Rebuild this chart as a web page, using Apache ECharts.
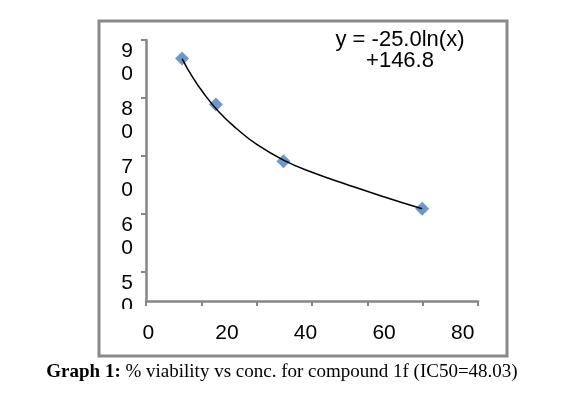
<!DOCTYPE html>
<html>
<head>
<meta charset="utf-8">
<script type="text/javascript" src="https://cdn.jsdelivr.net/npm/echarts@6.0.0/dist/echarts.min.js"></script>
<style>
html,body{margin:0;padding:0;background:#fff;}
#myChart{width:567px;height:396px;}
</style>
</head>
<body>
<div id="myChart"></div>
<script type="text/javascript">
// data
var concValues = [8.6, 17.2, 34.4, 69.7];
var viabilityValues = [86.8, 78.9, 69.1, 60.9];
// trendline samples
var trendX = [8.6, 11.0, 14.0, 18.0, 22.5, 27.6, 34.4, 42.0, 50.5, 58.9, 69.7];
var trendY = [86.8, 83.9, 80.9, 77.6, 74.7, 72.0, 69.3, 67.1, 65.1, 63.2, 60.9];
var xLabels = [0, 20, 40, 60, 80];
var yLabels = [50, 60, 70, 80, 90];
var equationText = 'y = -25.0ln(x)\n+146.8';
var captionBold = 'Graph 1:';
var captionText = ' % viability vs conc. for compound 1f (IC50=48.03)';

var myChart = echarts.init(document.getElementById('myChart'));

function pairs(xs, ys){
    var out = [];
    for(var i = 0;i<xs.length;i++){
        out.push([xs[i], ys[i]]);
    }
    return out;
}

var axisGray = '#868686';
var font = '"Liberation Sans", Arial, sans-serif';
var serif = '"Liberation Serif", "Times New Roman", serif';

var option = {
    backgroundColor:'#fff',
    animation:false,
    grid:{
        left:146,
        right:89,
        top:40,
        bottom:95
    },
    xAxis:[
        {
            // axis line with its six tick divisions
            type:'value',
            min:0,
            max:6,
            interval:1,
            axisLine:{lineStyle:{color:axisGray,width:2.5}},
            axisTick:{length:5,lineStyle:{color:axisGray,width:2}},
            axisLabel:{show:false},
            splitLine:{show:false}
        },
        {
            // label scale
            type:'value',
            position:'bottom',
            min:-0.58,
            max:83.9,
            axisLine:{show:false},
            axisTick:{show:false},
            splitLine:{show:false},
            axisLabel:{
                customValues:xLabels,
                interval:0,
                showMinLabel:true,
                showMaxLabel:true,
                margin:22,
                fontSize:21,
                lineHeight:21,
                fontFamily:font,
                color:'#000'
            }
        }
    ],
    yAxis:{
        type:'value',
        min:45,
        max:90,
        axisLine:{show:true,lineStyle:{color:axisGray,width:2.5}},
        axisTick:{show:true,length:5,interval:0,customValues:yLabels,lineStyle:{color:axisGray,width:2}},
        splitLine:{show:false},
        axisLabel:{
            customValues:yLabels,
            interval:0,
            showMinLabel:true,
            showMaxLabel:true,
            hideOverlap:false,
            margin:13,
            fontSize:21,
            lineHeight:23,
            fontFamily:font,
            color:'#000',
            verticalAlign:'top',
            formatter:function(v){
                return String(v).split('').join('\n');
            }
        }
    },
    series:[
        {
            name:'viability',
            type:'scatter',
            xAxisIndex:1,
            symbol:'diamond',
            symbolSize:14,
            itemStyle:{color:'#4a7ebb'},
            data:pairs(concValues, viabilityValues),
            z:2
        },
        {
            name:'trend',
            type:'line',
            xAxisIndex:1,
            smooth:true,
            showSymbol:false,
            symbol:'none',
            lineStyle:{color:'#000',width:1.5},
            data:pairs(trendX, trendY),
            z:3
        }
    ],
    graphic:[
        {
            type:'rect',
            shape:{x:99,y:21,width:408,height:335},
            style:{fill:'none',stroke:'#898989',lineWidth:3},
            silent:true
        },
        {
            // plot area clips the bottom of the "50" label
            type:'rect',
            shape:{x:104,y:309,width:40,height:10},
            style:{fill:'#fff'},
            z:100,
            silent:true
        },
        {
            type:'text',
            style:{
                x:400,
                y:29,
                text:equationText,
                align:'center',
                verticalAlign:'top',
                fontSize:22,
                lineHeight:21,
                fontFamily:font,
                fill:'#000'
            }
        },
        {
            type:'text',
            style:{
                x:282,
                y:372,
                text:'{b|' + captionBold + '}{n|' + captionText + '}',
                align:'center',
                verticalAlign:'middle',
                rich:{
                    b:{fontSize:19,fontWeight:'bold',fontFamily:serif,fill:'#000'},
                    n:{fontSize:19,fontFamily:serif,fill:'#000'}
                }
            }
        }
    ]
};
myChart.setOption(option);
</script>
</body>
</html>
